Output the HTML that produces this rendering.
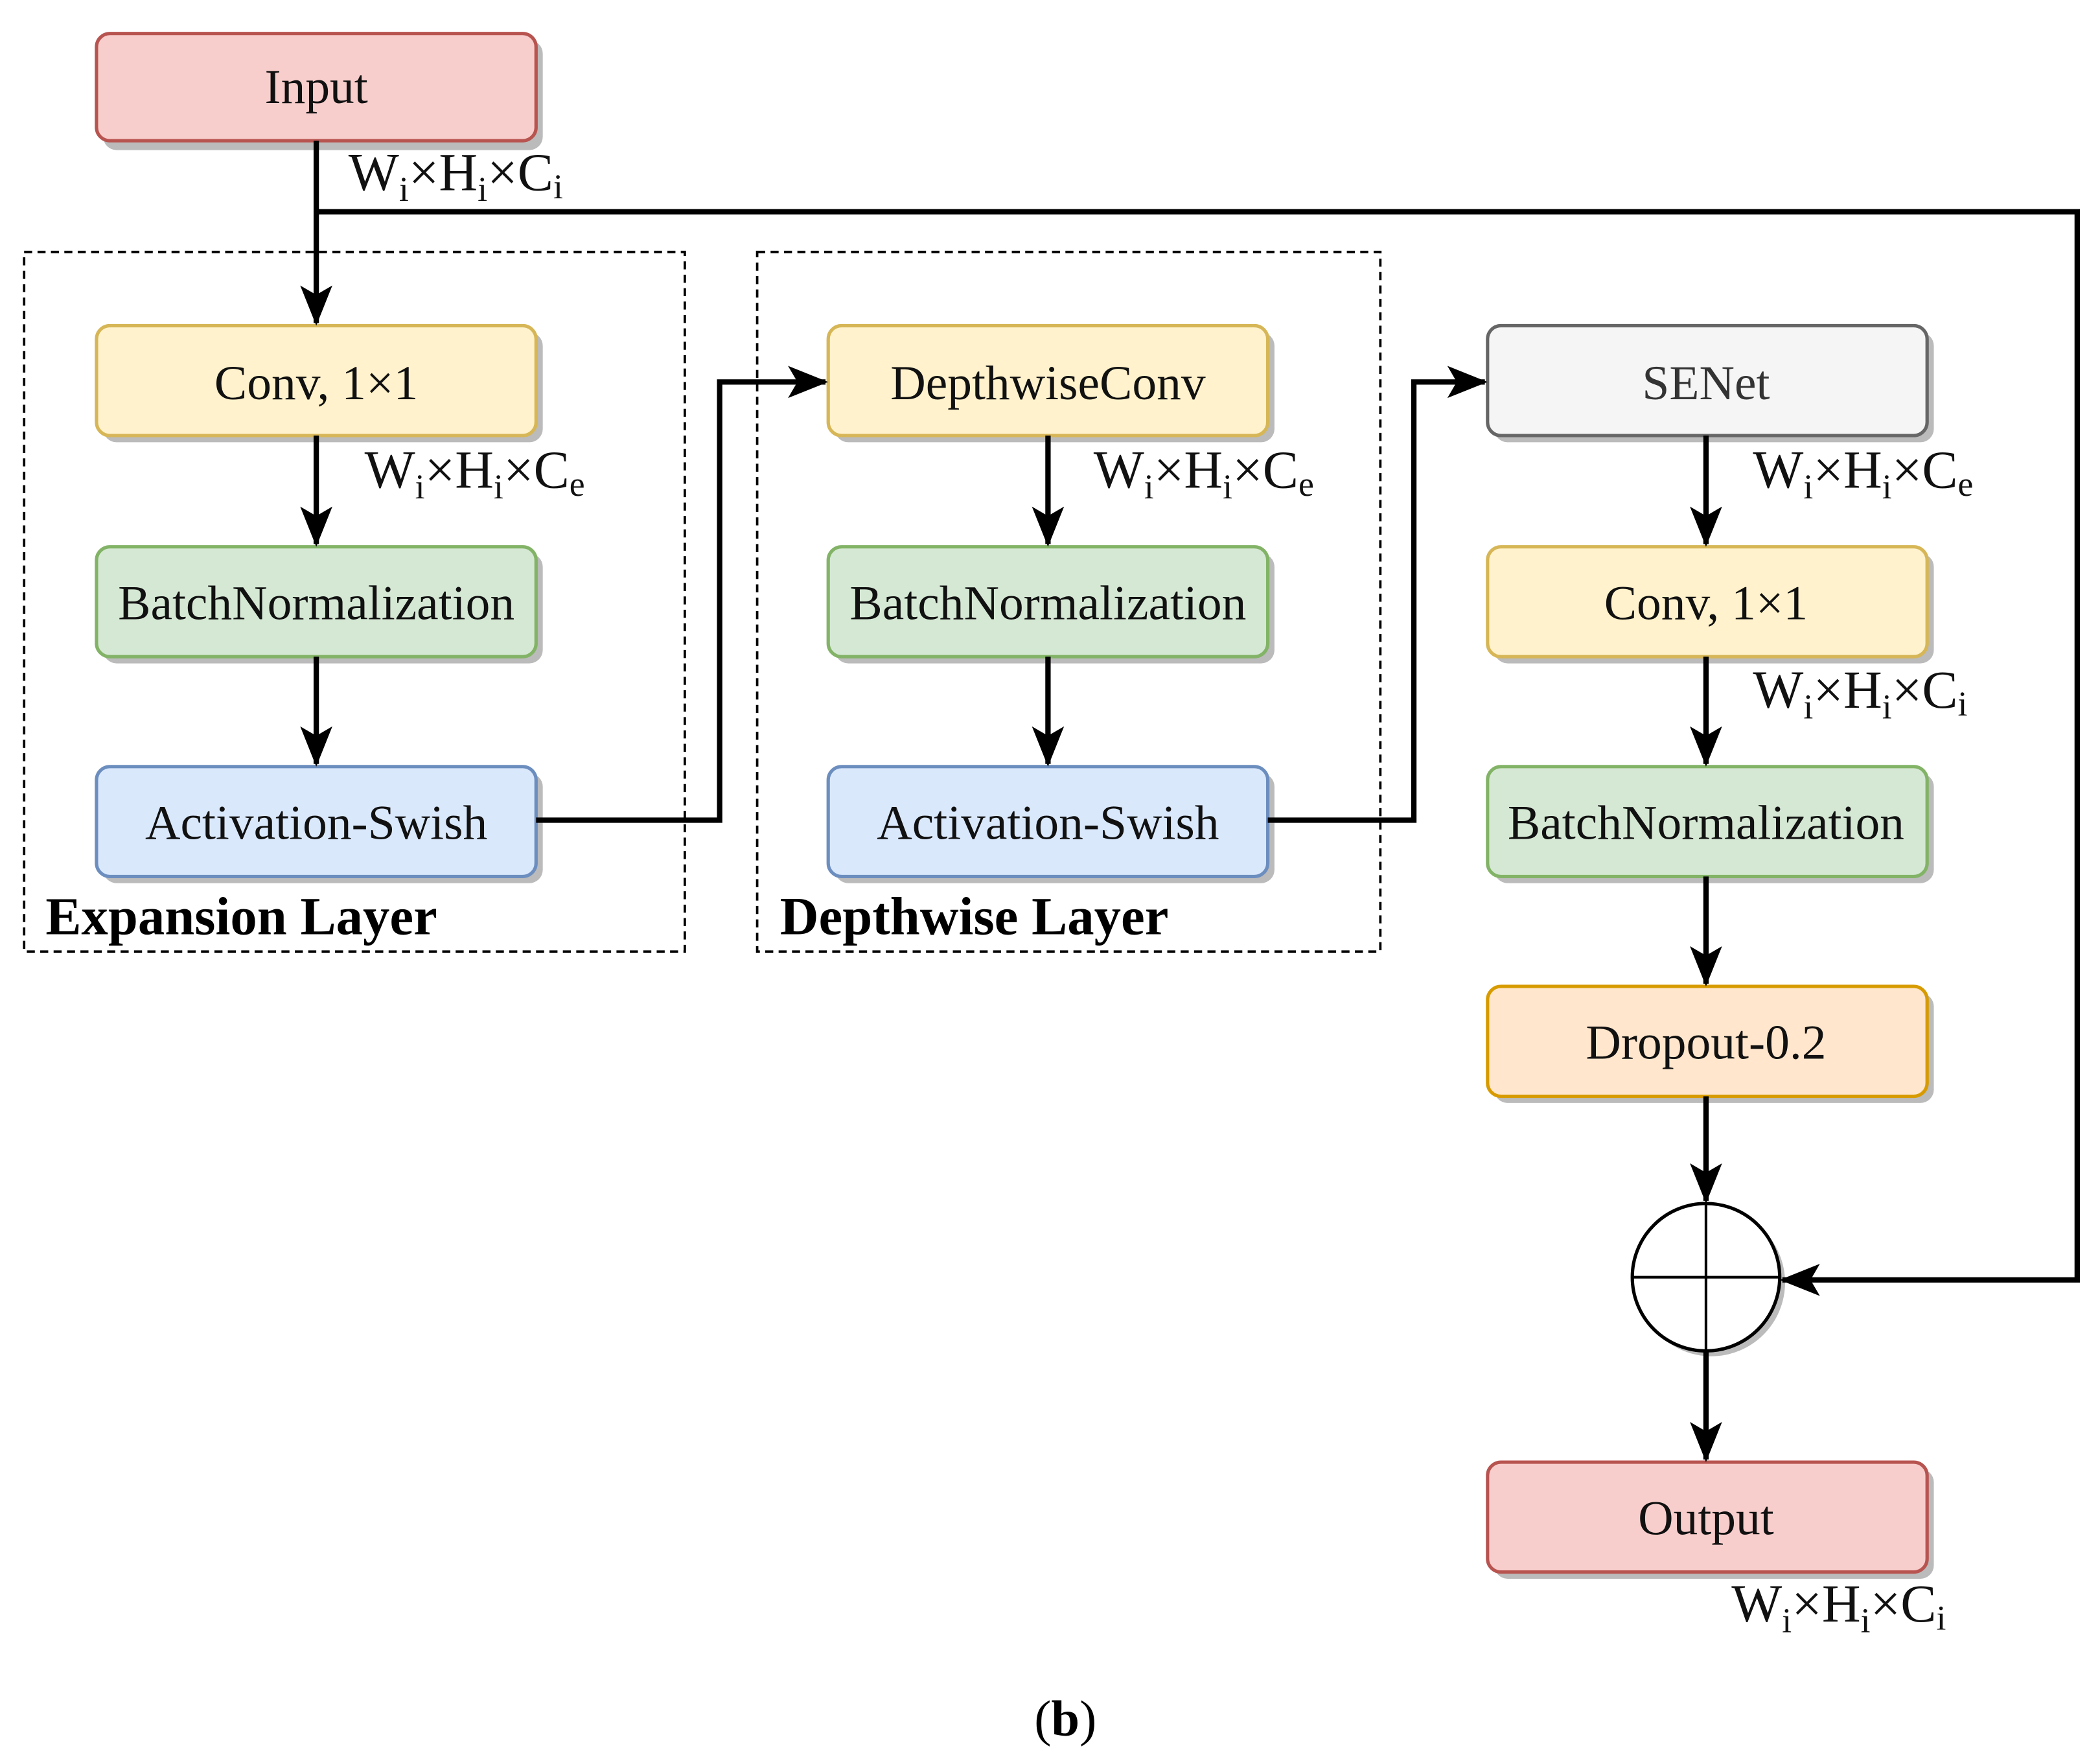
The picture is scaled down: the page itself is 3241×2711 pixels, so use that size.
<!DOCTYPE html>
<html><head><meta charset="utf-8"><style>html,body{margin:0;padding:0;background:#fff}svg{display:block}</style></head>
<body>
<svg width="3241" height="2711" viewBox="0 0 1567 1311" preserveAspectRatio="none" xmlns="http://www.w3.org/2000/svg" font-family="'Liberation Serif', serif">
<defs>
<marker id="a" viewBox="0 0 30 24" refX="28" refY="12" markerWidth="30" markerHeight="24" markerUnits="userSpaceOnUse" orient="auto">
<path d="M0,0 L30,12 L0,24 L7,12 Z" fill="#000"/>
</marker>
</defs>
<g fill="none" stroke="#000" stroke-width="1.8" stroke-dasharray="6,4">
<rect x="18" y="188" width="493" height="522"/>
<rect x="565" y="188" width="465" height="522"/>
</g>
<g stroke-width="2.5">
<g fill="#bbb" stroke="none">
<rect x="77" y="30" width="328" height="82" rx="10"/>
<rect x="77" y="248" width="328" height="82" rx="10"/>
<rect x="77" y="413" width="328" height="82" rx="10"/>
<rect x="77" y="577" width="328" height="82" rx="10"/>
<rect x="623" y="248" width="328" height="82" rx="10"/>
<rect x="623" y="413" width="328" height="82" rx="10"/>
<rect x="623" y="577" width="328" height="82" rx="10"/>
<rect x="1115" y="248" width="328" height="82" rx="10"/>
<rect x="1115" y="413" width="328" height="82" rx="10"/>
<rect x="1115" y="577" width="328" height="82" rx="10"/>
<rect x="1115" y="741" width="328" height="82" rx="10"/>
<rect x="1115" y="1096" width="328" height="82" rx="10"/>
<ellipse cx="1277" cy="957" rx="55" ry="55"/>
</g>
<rect x="72" y="25" width="328" height="80" rx="10" fill="#f8cecc" stroke="#b85450"/>
<rect x="72" y="243" width="328" height="82" rx="10" fill="#fff2cc" stroke="#d6b656"/>
<rect x="72" y="408" width="328" height="82" rx="10" fill="#d5e8d4" stroke="#82b366"/>
<rect x="72" y="572" width="328" height="82" rx="10" fill="#dae8fc" stroke="#6c8ebf"/>
<rect x="618" y="243" width="328" height="82" rx="10" fill="#fff2cc" stroke="#d6b656"/>
<rect x="618" y="408" width="328" height="82" rx="10" fill="#d5e8d4" stroke="#82b366"/>
<rect x="618" y="572" width="328" height="82" rx="10" fill="#dae8fc" stroke="#6c8ebf"/>
<rect x="1110" y="243" width="328" height="82" rx="10" fill="#f5f5f5" stroke="#666"/>
<rect x="1110" y="408" width="328" height="82" rx="10" fill="#fff2cc" stroke="#d6b656"/>
<rect x="1110" y="572" width="328" height="82" rx="10" fill="#d5e8d4" stroke="#82b366"/>
<rect x="1110" y="736" width="328" height="82" rx="10" fill="#ffe6cc" stroke="#d79b00"/>
<rect x="1110" y="1091" width="328" height="82" rx="10" fill="#f8cecc" stroke="#b85450"/>
<ellipse cx="1273" cy="953" rx="55" ry="55" fill="#fff" stroke="#000"/>
<path d="M1273,898 V1008 M1218,953 H1328" stroke="#000" stroke-width="2"/>
</g>
<g fill="none" stroke="#000" stroke-width="4">
<path d="M236,105 V241" marker-end="url(#a)"/>
<path d="M236,158 H1550 V955 H1330" marker-end="url(#a)"/>
<path d="M236,325 V406" marker-end="url(#a)"/>
<path d="M236,490 V570" marker-end="url(#a)"/>
<path d="M400,612 H537 V285 H616" marker-end="url(#a)"/>
<path d="M782,325 V406" marker-end="url(#a)"/>
<path d="M782,490 V570" marker-end="url(#a)"/>
<path d="M946,612 H1055 V285 H1108" marker-end="url(#a)"/>
<path d="M1273,325 V406" marker-end="url(#a)"/>
<path d="M1273,490 V570" marker-end="url(#a)"/>
<path d="M1273,654 V734" marker-end="url(#a)"/>
<path d="M1273,818 V896" marker-end="url(#a)"/>
<path d="M1273,1008 V1089" marker-end="url(#a)"/>
</g>
<g font-size="36.5" text-anchor="middle" fill="#111">
<text x="236" y="77">Input</text>
<text x="236" y="298">Conv, 1×1</text>
<text x="236" y="462">BatchNormalization</text>
<text x="236" y="626">Activation-Swish</text>
<text x="782" y="298">DepthwiseConv</text>
<text x="782" y="462">BatchNormalization</text>
<text x="782" y="626">Activation-Swish</text>
<text x="1273" y="298" fill="#333">SENet</text>
<text x="1273" y="462">Conv, 1×1</text>
<text x="1273" y="626">BatchNormalization</text>
<text x="1273" y="790">Dropout-0.2</text>
<text x="1273" y="1145">Output</text>
</g>
<g font-size="40" font-weight="bold" fill="#000">
<text x="34" y="697">Expansion Layer</text>
<text x="582" y="697">Depthwise Layer</text>
</g>
<g font-size="40" fill="#111">
<text x="260" y="142">W<tspan font-size="26" dy="8">i</tspan><tspan dy="-8">×H</tspan><tspan font-size="26" dy="8">i</tspan><tspan dy="-8">×C</tspan><tspan font-size="26" dy="6">i</tspan></text>
<text x="272" y="364">W<tspan font-size="26" dy="8">i</tspan><tspan dy="-8">×H</tspan><tspan font-size="26" dy="8">i</tspan><tspan dy="-8">×C</tspan><tspan font-size="26" dy="6">e</tspan></text>
<text x="816" y="364">W<tspan font-size="26" dy="8">i</tspan><tspan dy="-8">×H</tspan><tspan font-size="26" dy="8">i</tspan><tspan dy="-8">×C</tspan><tspan font-size="26" dy="6">e</tspan></text>
<text x="1308" y="364">W<tspan font-size="26" dy="8">i</tspan><tspan dy="-8">×H</tspan><tspan font-size="26" dy="8">i</tspan><tspan dy="-8">×C</tspan><tspan font-size="26" dy="6">e</tspan></text>
<text x="1308" y="528">W<tspan font-size="26" dy="8">i</tspan><tspan dy="-8">×H</tspan><tspan font-size="26" dy="8">i</tspan><tspan dy="-8">×C</tspan><tspan font-size="26" dy="6">i</tspan></text>
<text x="1292" y="1210">W<tspan font-size="26" dy="8">i</tspan><tspan dy="-8">×H</tspan><tspan font-size="26" dy="8">i</tspan><tspan dy="-8">×C</tspan><tspan font-size="26" dy="6">i</tspan></text>
</g>
<text x="795" y="1295" font-size="38" text-anchor="middle" fill="#000">(<tspan font-weight="bold">b</tspan>)</text>
</svg>
</body></html>
